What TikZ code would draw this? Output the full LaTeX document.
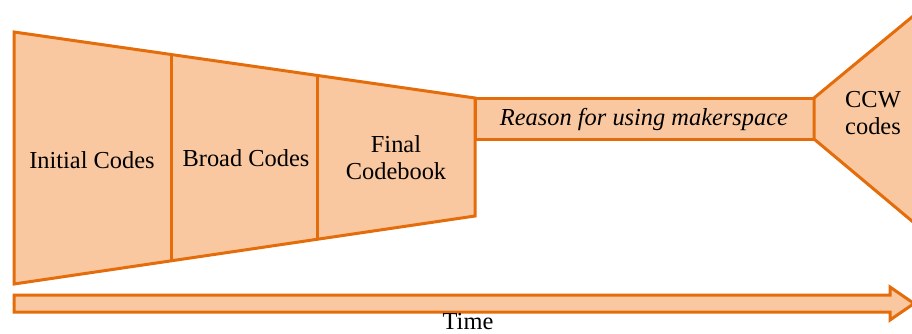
\documentclass[tikz,border=0pt]{standalone}
\usepackage{fontspec}
\setmainfont{Liberation Serif}
\newfontfamily\tnr{Liberation Serif}
\usetikzlibrary{calc}

\definecolor{orEdge}{RGB}{228,108,10}
\definecolor{orFill}{RGB}{250,200,160}

\begin{document}
\begin{tikzpicture}[
  x=0.5pt, y=-0.5pt,
  stage/.style={draw=orEdge, line width=1.5pt, fill=orFill, line join=miter},
  divider/.style={draw=orEdge, line width=1.5pt},
  lbl/.style={font=\tnr\fontsize{12.2}{13.5}\selectfont, align=center, text=black, inner sep=1pt},
]

% --- Rahmen ---
\useasboundingbox (0,0) rectangle (912,333);
\clip (0,0) rectangle (912,333);

% --- Trichter (drei Stufen) ---
\draw[stage] (14,32) -- (475,98) -- (475,216) -- (14,284) -- cycle;
\draw[divider] (171,54.5) -- (171,260.8);
\draw[divider] (317,75.4) -- (317,239.3);

% --- schmaler Kanal ---
\draw[stage] (475,98) rectangle (814,139);

% --- Aufweitung rechts ---
\draw[stage] (814,98) -- (960,-22.7) -- (960,261.3) -- (814,139) -- cycle;

% --- Zeitpfeil ---
\draw[stage] (14,295) -- (890,295) -- (890,287) -- (914,303.5)
  -- (890,320) -- (890,312) -- (14,312) -- cycle;

% --- Beschriftungen ---
\node[lbl] (init)   at (92,160)  {Initial Codes};
\node[lbl] (broad)  at (246,158) {Broad Codes};
\node[lbl] (final)  at (396,158) {Final\\Codebook};
\node[lbl, font=\tnr\fontsize{12.2}{13.5}\selectfont\itshape] (reason) at (644,120) {Reason for using makerspace};
\node[lbl] (ccw)    at (873,113) {CCW\\codes};
\node[lbl, inner sep=0pt] (time) at (468,322) {Time};

\end{tikzpicture}
\end{document}
